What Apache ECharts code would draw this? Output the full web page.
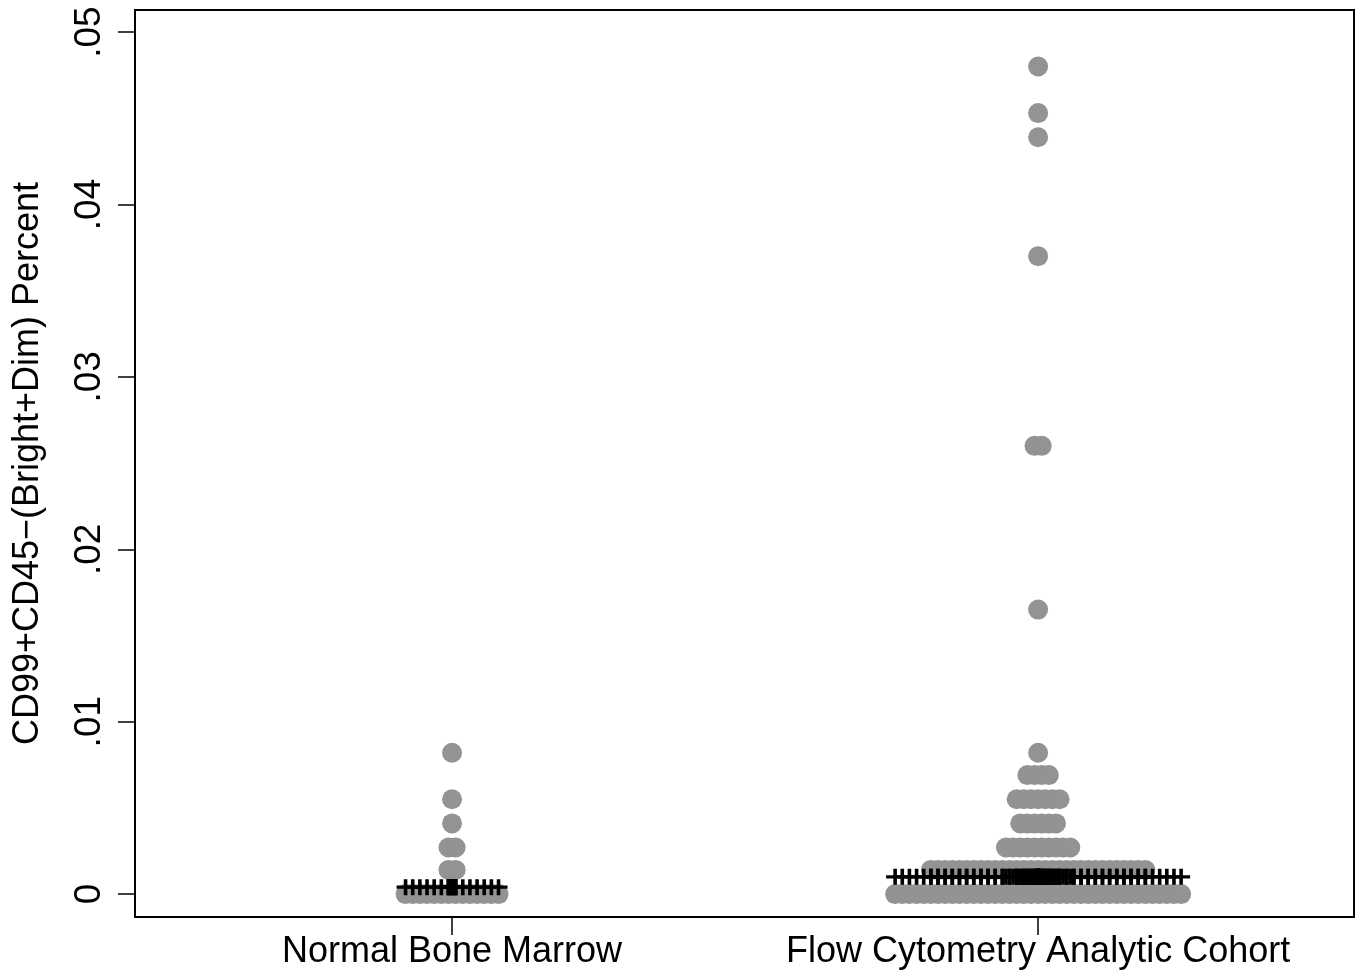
<!DOCTYPE html>
<html>
<head>
<meta charset="utf-8">
<script src="https://cdn.jsdelivr.net/npm/echarts@6/dist/echarts.min.js"></script>
<style>
  html, body { margin: 0; padding: 0; background: #fff; }
  #chart { width: 1361px; height: 977px; }
</style>
</head>
<body>
<div id="chart"></div>
<script>
// groups on the x axis
var categories = ['Normal Bone Marrow', 'Flow Cytometry Analytic Cohort'];

// dot plot rows: bin value and number of dots in the row
var marrowValues = [0, 0.0014, 0.0027, 0.0041, 0.0055, 0.0082];
var marrowCounts = [14, 2, 2, 1, 1, 1];

var cohortValues = [0, 0.0014, 0.0027, 0.0041, 0.0055, 0.0069, 0.0082, 0.0165, 0.026, 0.037, 0.0439, 0.0453, 0.048];
var cohortCounts = [41, 31, 10, 6, 7, 4, 1, 1, 2, 1, 1, 1, 1];

// median of each group (line of pluses)
var medians = [0.0004, 0.001];

var yTicks = [0, 0.01, 0.02, 0.03, 0.04, 0.05];

var dotStep = 0.0122; // horizontal spacing between dots, x-axis units

// spread each row of dots symmetrically round the group centre
function buildDots(center, values, counts) {
    var pts = [];
    values.forEach(function (v, i) {
        var n = counts[i];
        for (var j = 0; j < n; j++) {
            pts.push([center + (j - (n - 1) / 2) * dotStep, v]);
        }
    });
    return pts;
}

var groups = [
    { values: marrowValues, counts: marrowCounts },
    { values: cohortValues, counts: cohortCounts }
];

var dotData = [];
var plusData = [];
groups.forEach(function (g, gi) {
    var pts = buildDots(gi + 1, g.values, g.counts);
    dotData = dotData.concat(pts);
    pts.forEach(function (p) {
        plusData.push([p[0], medians[gi]]);
    });
});

var plusPath = 'path://M-1.8,-8L1.8,-8L1.8,-1.6L9,-1.6L9,1.6L1.8,1.6L1.8,8L-1.8,8L-1.8,1.6L-9,1.6L-9,-1.6L-1.8,-1.6Z';

var textFont = 'Liberation Sans';

var chart = echarts.init(document.getElementById('chart'));
chart.setOption({
    backgroundColor: '#fff',
    animation: false,
    grid: {
        left: 135,
        right: 7,
        top: 10,
        bottom: 60,
        show: true,
        borderColor: '#000',
        borderWidth: 2,
        backgroundColor: '#fff'
    },
    xAxis: {
        type: 'value',
        min: 0.459,
        max: 2.539,
        splitLine: { show: false },
        axisLine: { show: true, onZero: false, lineStyle: { color: '#000', width: 2 } },
        axisTick: {
            show: true,
            length: 18,
            customValues: [1, 2],
            lineStyle: { color: '#000', width: 1.5 }
        },
        axisLabel: {
            customValues: [1, 2],
            margin: 17,
            fontFamily: textFont,
            fontSize: 36,
            color: '#000',
            formatter: function (v) {
                return categories[Math.round(v) - 1];
            }
        }
    },
    yAxis: {
        type: 'value',
        min: -0.00133,
        max: 0.05128,
        name: 'CD99+CD45\u2212(Bright+Dim) Percent',
        nameLocation: 'middle',
        nameGap: 89,
        nameTextStyle: {
            fontFamily: textFont,
            fontSize: 36,
            color: '#000'
        },
        splitLine: { show: false },
        axisLine: { show: true, onZero: false, lineStyle: { color: '#000', width: 2 } },
        axisTick: {
            show: true,
            length: 17,
            customValues: yTicks,
            lineStyle: { color: '#000', width: 1.5 }
        },
        axisLabel: {
            customValues: yTicks,
            rotate: 90,
            margin: 27,
            fontFamily: textFont,
            fontSize: 37,
            color: '#000',
            formatter: function (v) {
                if (v === 0) return '0';
                return String(+v.toFixed(2)).replace(/^0/, '');
            }
        }
    },
    series: [
        {
            type: 'scatter',
            name: 'dots',
            data: dotData,
            symbol: 'circle',
            symbolSize: 20,
            itemStyle: { color: '#939393', opacity: 1 },
            z: 2
        },
        {
            type: 'scatter',
            name: 'median',
            data: plusData,
            symbol: plusPath,
            symbolSize: [18, 16],
            itemStyle: { color: '#000', opacity: 1 },
            z: 3
        }
    ]
});
</script>
</body>
</html>
